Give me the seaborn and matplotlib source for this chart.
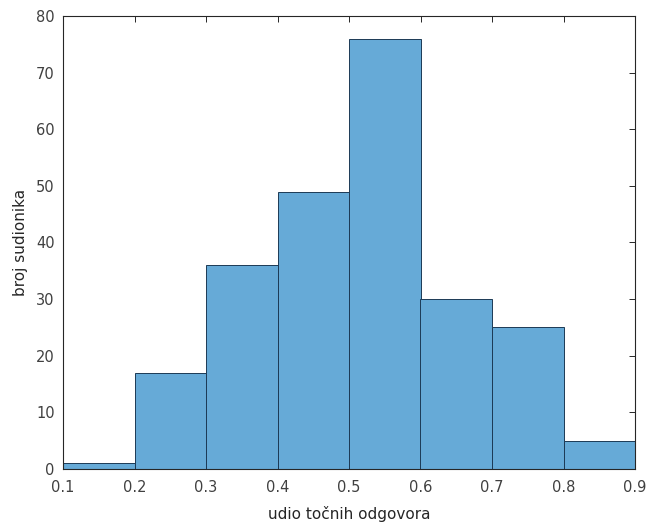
import numpy as np
import pandas as pd
import seaborn as sns
import matplotlib
matplotlib.use("Agg")
import matplotlib.pyplot as plt

# bin edges and counts
bin_edges = [0.1, 0.2, 0.3, 0.4, 0.5, 0.6, 0.7, 0.8, 0.9]
counts = [1, 17, 36, 49, 76, 30, 25, 5]
x_ticks = [0.1, 0.2, 0.3, 0.4, 0.5, 0.6, 0.7, 0.8, 0.9]
y_ticks = [0, 10, 20, 30, 40, 50, 60, 70, 80]

centers = [(a + b) / 2 for a, b in zip(bin_edges[:-1], bin_edges[1:])]
df = pd.DataFrame({"udio": centers, "broj": counts})

sns.set_style("white")
plt.rcParams["font.family"] = ["DejaVu Sans"]

fig = plt.figure(figsize=(6.47, 5.27), dpi=100)
ax = fig.add_axes([63 / 647, 58 / 527, 572 / 647, 453 / 527])

sns.histplot(data=df, x="udio", weights="broj", bins=bin_edges, ax=ax,
             color="#66aad7", alpha=1.0, edgecolor="#1c3a55", linewidth=0.7)

ax.set_xlim(0.1, 0.9)
ax.set_ylim(0, 80)
ax.set_xticks(x_ticks)
ax.set_xticklabels([f"{t:g}" for t in x_ticks])
ax.set_yticks(y_ticks)
ax.set_xlabel("udio točnih odgovora", fontsize=11, color="#262626", labelpad=8)
ax.set_ylabel("broj sudionika", fontsize=11, color="#262626", labelpad=6)
ax.tick_params(direction="in", length=4, width=0.7, top=True, right=True,
               labelsize=10.5, colors="#262626", labelcolor="#404040")
ax.tick_params(axis="x", pad=8)
ax.tick_params(axis="y", pad=6)
for s in ax.spines.values():
    s.set_color("#262626")
    s.set_linewidth(0.8)

fig.savefig("out.png", dpi=100)
